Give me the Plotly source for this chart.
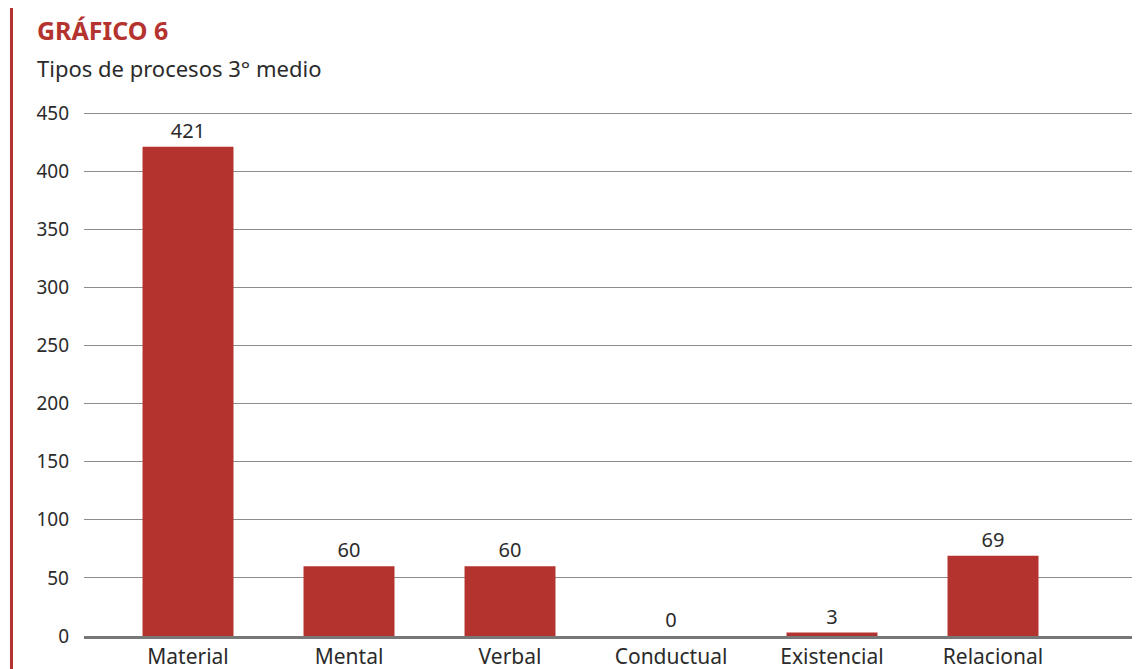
import plotly.graph_objects as go

categories = ["Material", "Mental", "Verbal", "Conductual", "Existencial", "Relacional"]
values = [421, 60, 60, 0, 3, 69]
y_ticks = [0, 50, 100, 150, 200, 250, 300, 350, 400, 450]

RED = "#B5332E"
TEXT = "#2b2b2b"
FONT = "Noto Sans"

# page has an 8px default body margin; compensate
OFF = 8
W, H = 1140 - OFF, 669 - OFF
ML, MR, MT, MB = 84 - OFF, 0, 103 - OFF, 33
PW = W - ML - MR
PH = H - MT - MB

fig = go.Figure()
fig.add_trace(go.Bar(
    x=categories, y=values,
    marker=dict(color=RED, line=dict(width=0)),
    width=0.565,
    text=[str(v) for v in values],
    textposition="outside",
    textfont=dict(family=FONT, size=20, color=TEXT),
    cliponaxis=False,
))

fig.update_layout(
    width=W, height=H,
    margin=dict(l=ML, r=MR, t=MT, b=MB, pad=0),
    paper_bgcolor="white", plot_bgcolor="white",
    showlegend=False,
    font=dict(family=FONT, color=TEXT),
    xaxis=dict(
        range=[-0.646, 5.913],
        showgrid=False,
        showline=True, linecolor="#777777", linewidth=3,
        ticks="",
        tickfont=dict(family=FONT, size=21, color=TEXT),
    ),
    yaxis=dict(
        range=[0, 458.6],
        tickvals=y_ticks,
        showgrid=True, gridcolor="#8c8c8c", gridwidth=1,
        zeroline=False,
        showline=False,
        ticks="",
        ticklabelstandoff=14,
        tickfont=dict(family=FONT, size=19, color=TEXT),
    ),
    shapes=[dict(
        type="line", xref="paper", yref="paper",
        x0=-(ML - 3.5) / PW, x1=-(ML - 3.5) / PW,
        y0=-MB / PH, y1=1 + MT / PH + 0.05,
        line=dict(color=RED, width=3),
    )],
    annotations=[
        dict(text="<b>GRÁFICO 6</b>", xref="paper", yref="paper",
             x=-(ML - 27) / PW, y=1 + (MT - 22) / PH,
             xanchor="left", yanchor="middle", showarrow=False,
             font=dict(family=FONT, size=25, color=RED)),
        dict(text="Tipos de procesos 3° medio", xref="paper", yref="paper",
             x=-(ML - 27) / PW, y=1 + (MT - 60) / PH,
             xanchor="left", yanchor="middle", showarrow=False,
             font=dict(family=FONT, size=22, color=TEXT)),
    ],
)

fig.write_html("out.html")
